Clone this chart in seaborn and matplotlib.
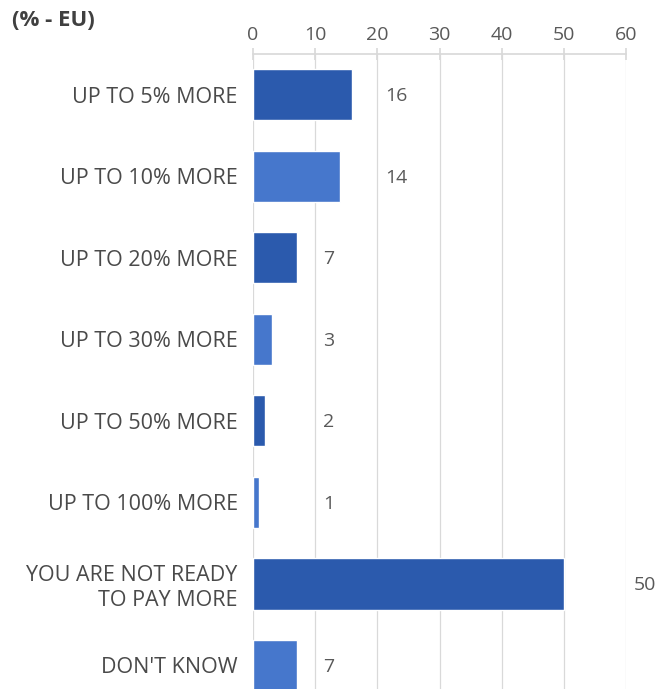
import pandas as pd
import matplotlib.pyplot as plt
import seaborn as sns

categories = ["UP TO 5% MORE", "UP TO 10% MORE", "UP TO 20% MORE", "UP TO 30% MORE",
              "UP TO 50% MORE", "UP TO 100% MORE", "YOU ARE NOT READY\nTO PAY MORE",
              "DON'T KNOW"]
values = [16, 14, 7, 3, 2, 1, 50, 7]
ticks = [0, 10, 20, 30, 40, 50, 60]

dark = "#2b5aad"
light = "#4677cc"
bar_colors = [dark if i % 2 == 0 else light for i in range(len(categories))]

df = pd.DataFrame({"answer": categories, "pct": values})

sns.set_theme(style="white")
plt.rcParams["font.family"] = ["Open Sans", "DejaVu Sans"]

fig = plt.figure(figsize=(6.58, 6.89), dpi=100)
ax = fig.add_axes([253 / 658, 0.0, (626 - 253) / 658, 1 - 54 / 689])

sns.barplot(data=df, y="answer", x="pct", hue="answer", palette=bar_colors,
            legend=False, width=0.63, saturation=1, ax=ax)

ax.set_xlim(0, 60)
ax.set_ylim(7.29, -0.5)
ax.xaxis.tick_top()
ax.set_xticks(ticks)
ax.set_xlabel("")
ax.set_ylabel("")
ax.grid(axis="x", color="#d9d9d9", linewidth=0.9)
ax.set_axisbelow(True)
for side in ["right", "bottom", "left"]:
    ax.spines[side].set_visible(False)
ax.spines["top"].set_color("#d9d9d9")
ax.tick_params(axis="x", which="both", top=True, direction="inout", length=8,
               color="#d9d9d9", labelsize=14, labelcolor="#595959", pad=3)
ax.tick_params(axis="y", left=False, length=0, labelsize=15.5, labelcolor="#4a4a4a", pad=11)
for lbl in ax.get_yticklabels():
    lbl.set_horizontalalignment("right")
    lbl.set_linespacing(1.2)

# value labels sit just past the next gridline
for i, v in enumerate(values):
    xpos = (v // 10 + 1) * 10 + 1.3
    ax.text(xpos, i + 0.02, str(v), va="center", ha="left", fontsize=14, color="#595959",
            clip_on=False)

fig.text(12 / 658, 1 - 20 / 689, "(% - EU)", fontsize=16, fontweight="bold",
         color="#404040", va="center", ha="left")

fig.savefig("out.png", dpi=100)
